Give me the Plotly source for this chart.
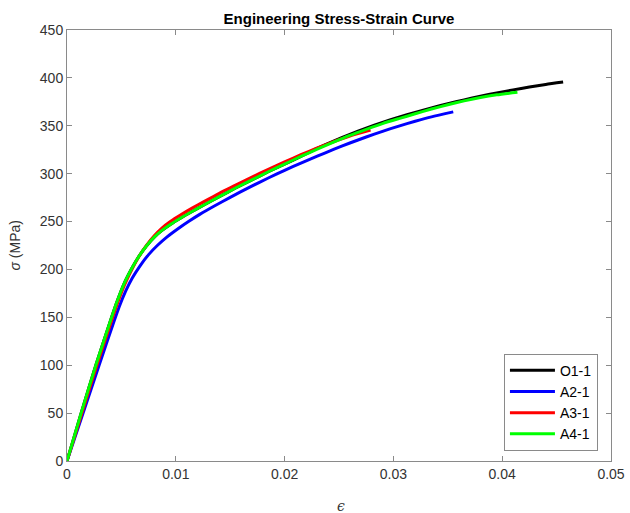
import plotly.graph_objects as go

# ---- data (strain, stress in MPa) ----
o1_strain = [0, 0.0013, 0.00265, 0.0041, 0.0046, 0.0052, 0.006, 0.0066, 0.0073, 0.008, 0.0087,
             0.0095, 0.0105, 0.0115, 0.0125, 0.014, 0.0155, 0.017, 0.0185, 0.020, 0.0215, 0.023,
             0.0245, 0.026, 0.0275, 0.029, 0.0305, 0.032, 0.0335, 0.035, 0.0365, 0.038, 0.0395,
             0.041, 0.0425, 0.044, 0.0456]
o1_stress = [0, 50, 100, 150, 166.5, 184, 202, 213.5, 224.5, 233.5, 240.5,
             247, 254, 260.5, 266.8, 276, 285, 293.5, 302, 310, 318, 326.5,
             334, 341, 347.5, 353.5, 359, 364, 368.7, 373, 377, 380.8, 384.3,
             387.5, 390.5, 393.2, 395.7]

a2_strain = [0, 0.00148, 0.00295, 0.0043, 0.0048, 0.0054, 0.006, 0.0067, 0.0075, 0.0083, 0.0092,
             0.0102, 0.0112, 0.0122, 0.0135, 0.015, 0.0168, 0.0185, 0.020, 0.0215, 0.023, 0.0245,
             0.026, 0.0275, 0.029, 0.0305, 0.032, 0.0335, 0.0355]
a2_stress = [0, 50, 100, 145, 161, 177.5, 191, 203.5, 215.5, 225, 234,
             242.5, 250.3, 257.5, 266, 275.3, 286, 295.5, 303.5, 311, 318.3, 325.3,
             332, 338.3, 344.2, 349.7, 354.7, 359.3, 364.5]

a3_strain = [0, 0.001375, 0.00275, 0.0042, 0.0047, 0.0053, 0.0061, 0.0067, 0.00732, 0.008, 0.0087,
             0.0095, 0.0105, 0.0115, 0.0125, 0.014, 0.0155, 0.017, 0.0185, 0.020, 0.0215, 0.023,
             0.0245, 0.026, 0.0279]
a3_stress = [0, 50, 100, 150, 166.5, 184, 203, 215, 225.5, 235, 243,
             250, 257.3, 264, 270.3, 279.5, 288, 296.5, 304.5, 312.3, 319.8, 326.8,
             333.3, 339.3, 345.5]

a4_strain = [0, 0.0013, 0.00265, 0.0041, 0.0046, 0.0052, 0.006, 0.0066, 0.0073, 0.008, 0.0087,
             0.0095, 0.0105, 0.0115, 0.0125, 0.014, 0.0155, 0.017, 0.0185, 0.020, 0.0215, 0.023,
             0.0245, 0.026, 0.0275, 0.029, 0.0305, 0.032, 0.0335, 0.035, 0.0365, 0.038, 0.0395,
             0.0414]
a4_stress = [0, 50, 100, 150, 166.5, 184, 202, 213.5, 224.5, 233.5, 240.5,
             247, 254, 260.5, 266.8, 276, 285, 293.5, 302, 310, 318, 325.5,
             333, 340, 346.3, 352.3, 357.5, 362.5, 367.5, 372, 376, 379.5, 382.3,
             385]

series = [
    ("O1-1", o1_strain, o1_stress, "#000000"),
    ("A2-1", a2_strain, a2_stress, "#0000FF"),
    ("A3-1", a3_strain, a3_stress, "#FF0000"),
    ("A4-1", a4_strain, a4_stress, "#00FF00"),
]

x_ticks = [0, 0.01, 0.02, 0.03, 0.04, 0.05]
x_tick_labels = ["0", "0.01", "0.02", "0.03", "0.04", "0.05"]
y_ticks = [0, 50, 100, 150, 200, 250, 300, 350, 400, 450]

fig = go.Figure()
for name, xs, ys, col in series:
    fig.add_trace(go.Scatter(x=xs, y=ys, mode="lines", name=name,
                             line=dict(color=col, width=3, shape="spline", smoothing=0.6)))

axis_col = "#8a8a8a"
font_col = "#333333"
common = dict(showline=True, linecolor=axis_col, linewidth=1, mirror="ticks",
              ticks="inside", ticklen=5, tickcolor=axis_col, showgrid=False, zeroline=False,
              automargin=False,
              tickfont=dict(family="Liberation Sans, Arial", size=14, color=font_col))

fig.update_layout(
    width=630, height=513,
    margin=dict(l=67, r=19, t=30, b=52),
    paper_bgcolor="white", plot_bgcolor="white",
    title=dict(text="<b>Engineering Stress-Strain Curve</b>", x=(67 + 611) / 2 / 630, xanchor="center",
               y=1 - 19 / 513, yanchor="middle",
               font=dict(family="Liberation Sans, Arial", size=15, color="#000000")),
    xaxis=dict(range=[0, 0.05], tickvals=x_ticks, ticktext=x_tick_labels, **common),
    yaxis=dict(range=[0, 450], tickvals=y_ticks, **common),
    legend=dict(x=0.976, y=0.024, xanchor="right", yanchor="bottom",
                bordercolor=axis_col, borderwidth=1, bgcolor="white",
                font=dict(family="Liberation Sans, Arial", size=14, color="#000000"),
                itemwidth=45, tracegroupgap=0),
    showlegend=True,
    annotations=[
        dict(text="<i>ϵ</i>", xref="paper", yref="paper", x=0.503, y=0, xanchor="center",
             yanchor="middle", yshift=-45, showarrow=False,
             font=dict(family="DejaVu Serif", size=14, color=font_col)),
        dict(text="<i>σ</i> (MPa)", xref="paper", yref="paper", x=-0.0974, y=0.5, xanchor="center",
             yanchor="middle", textangle=-90, showarrow=False,
             font=dict(family="Liberation Sans, Arial", size=14, color=font_col)),
    ],
)

fig.write_html("out.html")
